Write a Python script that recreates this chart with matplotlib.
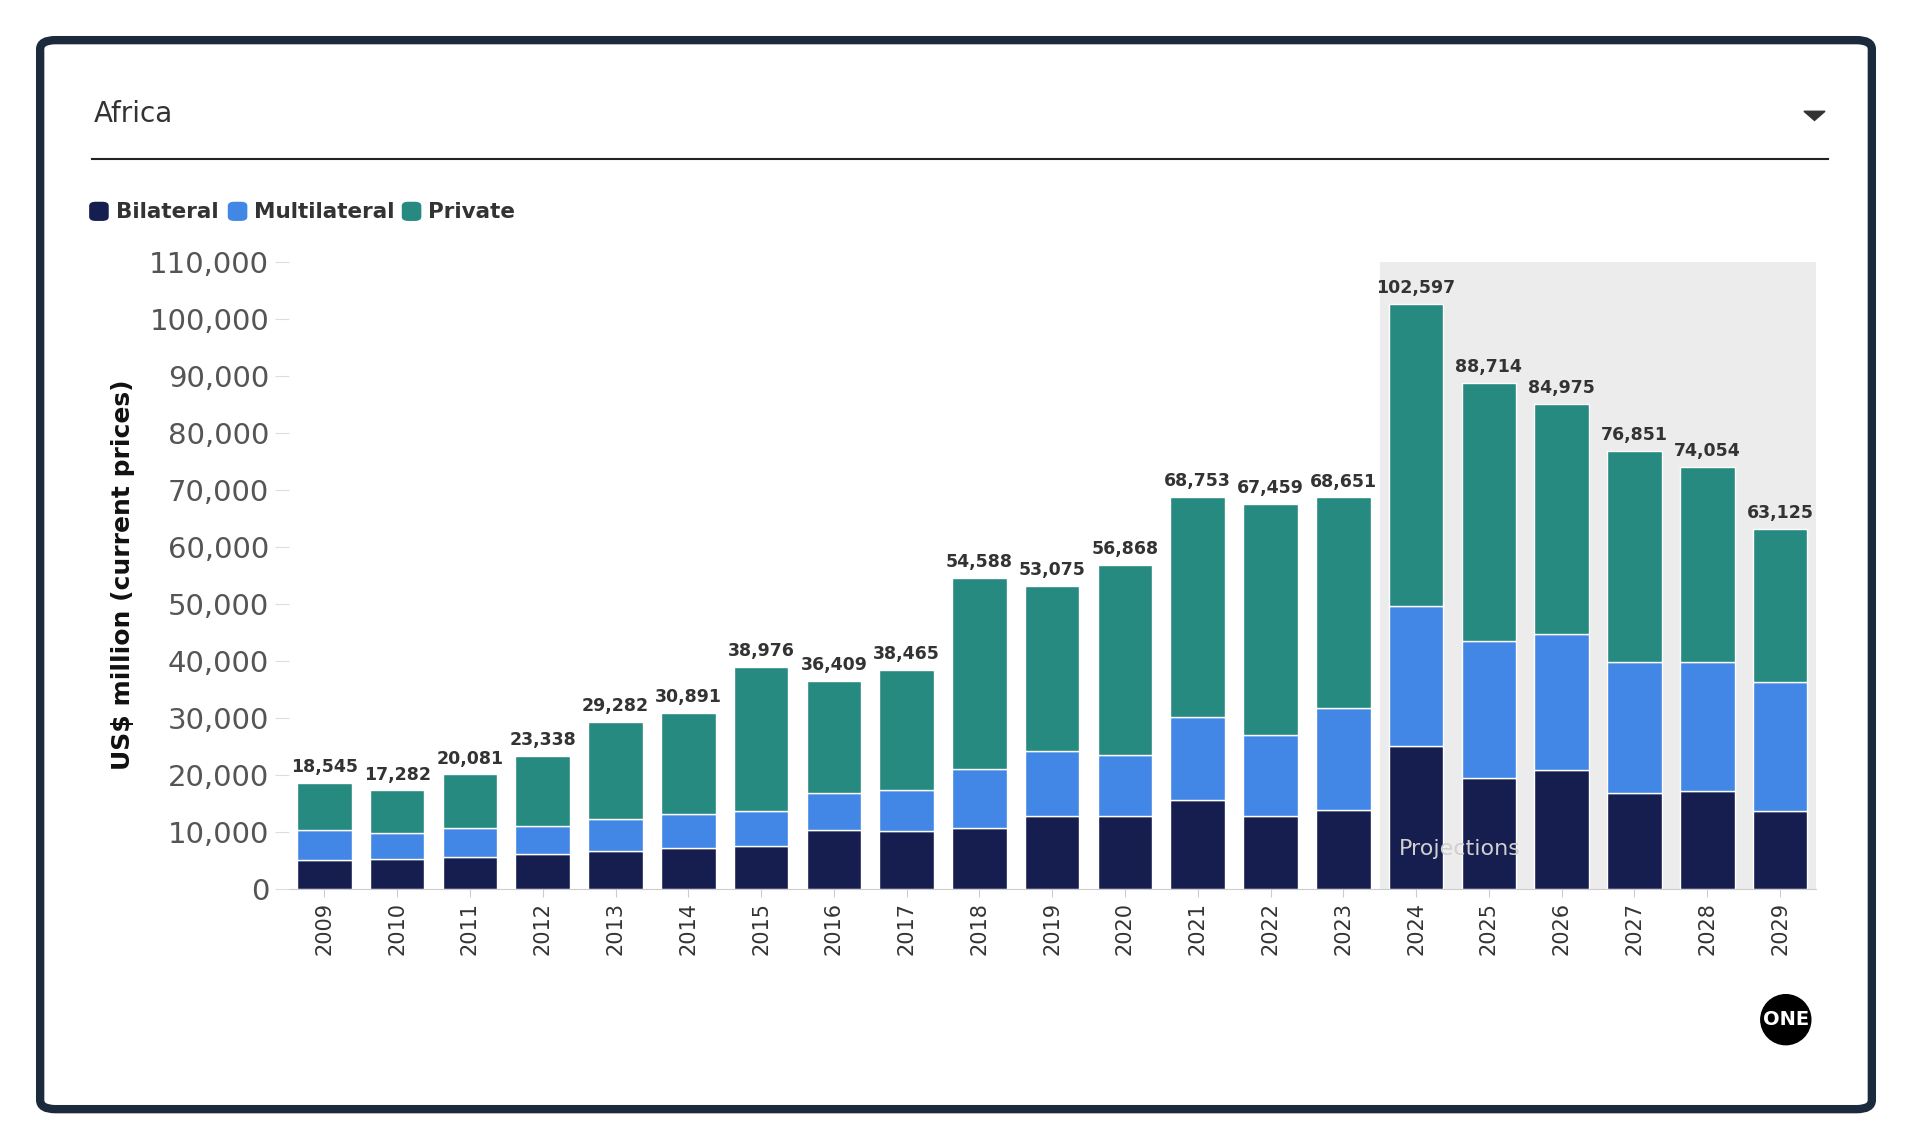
import matplotlib
matplotlib.use("Agg")
import matplotlib.pyplot as plt
from matplotlib.patches import FancyBboxPatch, Circle, Polygon
import numpy as np

years = ["2009","2010","2011","2012","2013","2014","2015","2016","2017","2018","2019",
         "2020","2021","2022","2023","2024","2025","2026","2027","2028","2029"]
totals = [18545,17282,20081,23338,29282,30891,38976,36409,38465,54588,53075,
          56868,68753,67459,68651,102597,88714,84975,76851,74054,63125]
bilateral = [5100,5300,5600,6200,6600,7100,7500,10300,10100,10700,12800,
             12800,15600,12800,13900,25000,19500,20800,16900,17100,13700]
multilateral = [5200,4500,5100,4900,5600,6000,6200,6600,7200,10300,11400,
                10700,14600,14200,17800,24600,23900,23900,22900,22700,22500]
private = [t - b - m for t, b, m in zip(totals, bilateral, multilateral)]

C_BIL, C_MUL, C_PRI = "#161d4f", "#4287e5", "#268a80"

fig = plt.figure(figsize=(19.12, 11.47), dpi=100)
fig.patches.append(FancyBboxPatch((0.021, 0.033), 0.958, 0.932, boxstyle="round,pad=0,rounding_size=0.008",
                                  transform=fig.transFigure, fill=False, lw=6, ec="#1c2a3e"))
fig.text(0.049, 0.901, "Africa", fontsize=20, color="#333333", va="center")
fig.patches.append(Polygon([[0.9435, 0.903], [0.9545, 0.903], [0.949, 0.895]], closed=True,
                           transform=fig.transFigure, color="#333333"))
fig.add_artist(plt.Line2D([0.048, 0.956], [0.861, 0.861], transform=fig.transFigure, color="#222222", lw=1.5))

# legend
for name, c, sx in [("Bilateral", C_BIL, 0.047), ("Multilateral", C_MUL, 0.1195), ("Private", C_PRI, 0.2105)]:
    fig.patches.append(FancyBboxPatch((sx, 0.808), 0.0095, 0.0155, boxstyle="round,pad=0,rounding_size=0.003",
                                      transform=fig.transFigure, color=c))
    fig.text(sx + 0.0135, 0.815, name, fontsize=15.5, fontweight="bold", color="#333333", va="center")

ax = fig.add_axes([0.151, 0.225, 0.799, 0.547])
x = np.arange(len(years))
ax.axvspan(14.5, 20.5, color="#ececec", zorder=0)
w = 0.75
ax.bar(x, bilateral, w, color=C_BIL, edgecolor="white", lw=1, zorder=2)
ax.bar(x, multilateral, w, bottom=bilateral, color=C_MUL, edgecolor="white", lw=1, zorder=2)
bot = [b + m for b, m in zip(bilateral, multilateral)]
ax.bar(x, private, w, bottom=bot, color=C_PRI, edgecolor="white", lw=1, zorder=2)
for xi, t in zip(x, totals):
    ax.text(xi, t + 1200, f"{t:,}", ha="center", va="bottom", fontsize=12.5, fontweight="bold", color="#333333")
ax.text(15.6, 7000, "Projections", ha="center", va="center", fontsize=16, color="#cfcfcf", zorder=3)

ax.set_xlim(-0.49, 20.5)
ax.set_ylim(0, 110000)
ax.set_yticks(np.arange(0, 110001, 10000))
ax.set_yticklabels([f"{v:,}" for v in range(0, 110001, 10000)], fontsize=21, color="#555555")
ax.set_xticks(x)
ax.set_xticklabels(years, rotation=90, fontsize=15, color="#333333")
ax.tick_params(axis="y", length=10, color="#dddddd", pad=4)
ax.tick_params(axis="x", length=6, color="#cccccc")
for s in ["top", "right", "left"]:
    ax.spines[s].set_visible(False)
ax.spines["bottom"].set_color("#cccccc")
ax.set_ylabel("US$ million (current prices)", fontsize=18, fontweight="bold", color="#111111", labelpad=10)

c = Circle((0.934 * 19.12, 0.111 * 11.47), 0.25, transform=fig.dpi_scale_trans, color="black")
fig.patches.append(c)
fig.text(0.934, 0.111, "ONE", color="white", fontsize=14, fontweight="bold", ha="center", va="center")

fig.savefig("out.png", dpi=100, facecolor="white")
